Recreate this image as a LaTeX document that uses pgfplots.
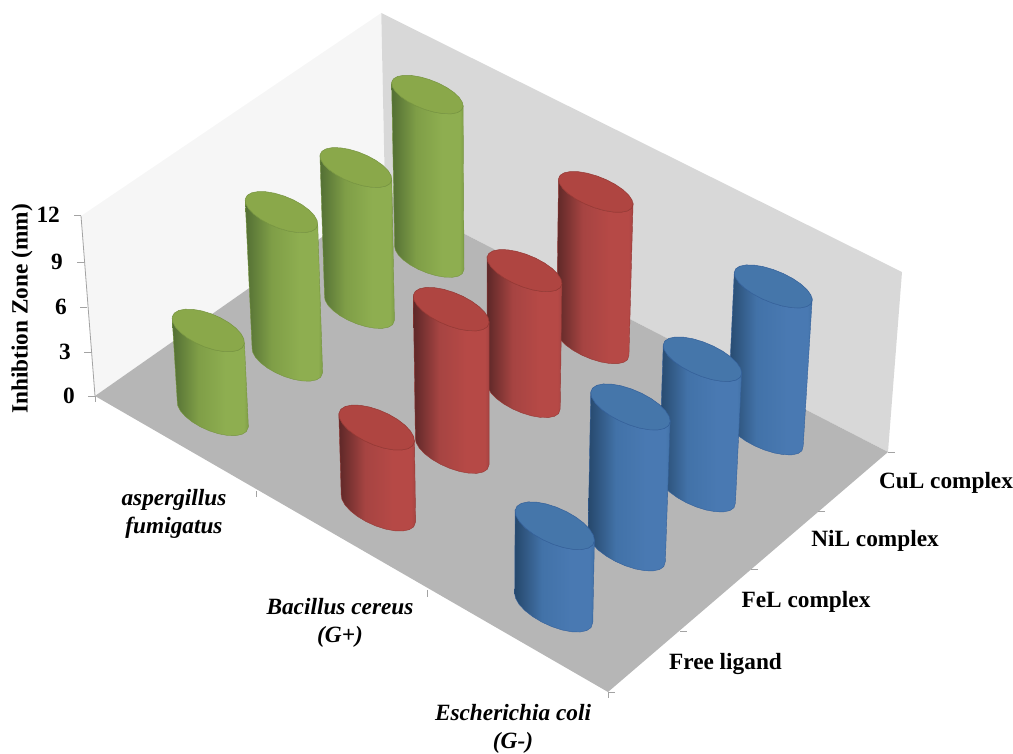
\documentclass[border=0pt]{standalone}
\usepackage{pgfplots}
\usepackage{pgfplotstable}
\usepackage{fontspec}
\setmainfont{Liberation Serif}
\pgfplotsset{compat=1.18}

\definecolor{wallL}{HTML}{F6F6F6}
\definecolor{wallB}{HTML}{D8D8D8}
\definecolor{floorC}{HTML}{B6B6B6}
\definecolor{axisC}{HTML}{A3A3A3}

\definecolor{grnTop}{HTML}{8AA84A}
\definecolor{grnEdge}{HTML}{769440}
\definecolor{grnA}{HTML}{536F34}
\definecolor{grnB}{HTML}{7F9E47}
\definecolor{grnC}{HTML}{8EAE50}
\definecolor{redTop}{HTML}{AF4541}
\definecolor{redEdge}{HTML}{943834}
\definecolor{redA}{HTML}{5E2828}
\definecolor{redB}{HTML}{A64442}
\definecolor{redC}{HTML}{B64946}
\definecolor{bluTop}{HTML}{4576AA}
\definecolor{bluEdge}{HTML}{34609A}
\definecolor{bluA}{HTML}{26486C}
\definecolor{bluB}{HTML}{4272A8}
\definecolor{bluC}{HTML}{4979B2}

\pgfdeclarehorizontalshading{grnShade}{100bp}{color(0bp)=(grnA);color(25bp)=(grnA);color(42bp)=(grnB);color(60bp)=(grnC);color(72bp)=(grnC);color(75bp)=(grnB);color(100bp)=(grnB)}
\pgfdeclarehorizontalshading{redShade}{100bp}{color(0bp)=(redA);color(25bp)=(redA);color(42bp)=(redB);color(60bp)=(redC);color(72bp)=(redC);color(75bp)=(redB);color(100bp)=(redB)}
\pgfdeclarehorizontalshading{bluShade}{100bp}{color(0bp)=(bluA);color(25bp)=(bluA);color(42bp)=(bluB);color(60bp)=(bluC);color(72bp)=(bluC);color(75bp)=(bluB);color(100bp)=(bluB)}

\tikzset{
  tk/.style={draw=axisC, line width=0.8pt},
  lab/.style={font=\fontsize{23.3}{26}\selectfont\bfseries, inner sep=0pt, align=center},
  cat/.style={font=\fontsize{23.3}{28}\selectfont\bfseries\itshape, inner sep=0pt, align=center},
}

% Outline of a column: front half of the base disc (f=0), then the same arc on the lid (f=1)
\pgfplotstableread{
c s f
0.9205 0.3907 0
0.9962 0.0872 0
0.9848 -0.1736 0
0.9063 -0.4226 0
0.7660 -0.6428 0
0.5736 -0.8192 0
0.3420 -0.9397 0
0.0872 -0.9962 0
-0.1736 -0.9848 0
-0.4226 -0.9063 0
-0.6428 -0.7660 0
-0.8192 -0.5736 0
-0.9205 -0.3907 0
-0.9205 -0.3907 1
-0.8192 -0.5736 1
-0.6428 -0.7660 1
-0.4226 -0.9063 1
-0.1736 -0.9848 1
0.0872 -0.9962 1
0.3420 -0.9397 1
0.5736 -0.8192 1
0.7660 -0.6428 1
0.9063 -0.4226 1
0.9848 -0.1736 1
0.9962 0.0872 1
0.9205 0.3907 1
0.9205 0.3907 0
}\bodyOutline

% Lid of a column: the full disc
\pgfplotstableread{
c s
0.9397 0.3420
0.8192 0.5736
0.6428 0.7660
0.4226 0.9063
0.1736 0.9848
-0.0872 0.9962
-0.3420 0.9397
-0.5736 0.8192
-0.7660 0.6428
-0.9063 0.4226
-0.9848 0.1736
-0.9962 -0.0872
-0.9397 -0.3420
-0.8192 -0.5736
-0.6428 -0.7660
-0.4226 -0.9063
-0.1736 -0.9848
0.0872 -0.9962
0.3420 -0.9397
0.5736 -0.8192
0.7660 -0.6428
0.9063 -0.4226
0.9848 -0.1736
0.9962 0.0872
0.9397 0.3420
}\lidOutline

\newcommand{\ru}{0.20}
\newcommand{\rv}{0.20}

% \Column{category position}{series position}{zone in mm}{colour prefix}
\newcommand{\Column}[4]{%
  \addplot[draw=#4Edge, line width=0.4pt, shade, shading=#4Shade] table[
    x expr={px(#1+0.5+\ru*\thisrow{c},#2+0.5+\rv*\thisrow{s},#3*\thisrow{f})},
    y expr={py(#1+0.5+\ru*\thisrow{c},#2+0.5+\rv*\thisrow{s},#3*\thisrow{f})}] {\bodyOutline};
  \addplot[draw=#4Edge, line width=0.5pt, fill=#4Top] table[
    x expr={px(#1+0.5+\ru*\thisrow{c},#2+0.5+\rv*\thisrow{s},#3)},
    y expr={py(#1+0.5+\ru*\thisrow{c},#2+0.5+\rv*\thisrow{s},#3)}] {\lidOutline};
}

\begin{document}
\begin{tikzpicture}[
  declare function={
    wq(\uu,\vv)=1-0.027637*\uu+0.016508*\vv;
    fx(\uu,\vv)=(154.197*\uu+78.855*\vv+95)/wq(\uu,\vv);
    fy(\uu,\vv)=(79.543*\uu-47.565*\vv+396)/wq(\uu,\vv);
    px(\uu,\vv,\zz)=fx(\uu,\vv)+(fx(\uu,\vv)-491)*\zz*0.00294;
    py(\uu,\vv,\zz)=fy(\uu,\vv)-15*\zz;
  }]
\begin{axis}[
  scale only axis, width=1013pt, height=754pt,
  xmin=0, xmax=1013, ymin=0, ymax=754, y dir=reverse,
  hide axis, clip=false,
  table/project/.style={x expr={px(\thisrow{u},\thisrow{v},\thisrow{z})},
                  y expr={py(\thisrow{u},\thisrow{v},\thisrow{z})}},
]
% full page extent
\path (axis cs:0,0) rectangle (axis cs:1013,754);
% left wall, back wall and floor
\addplot[draw=none, fill=wallL] table[project, row sep=\\]{u v z\\ 0 0 0\\ 0 0 12\\ 0 4 12\\ 0 4 0\\ 0 0 0\\};
\addplot[draw=none, fill=wallB] table[project, row sep=\\]{u v z\\ 0 4 0\\ 0 4 12\\ 3 4 12\\ 3 4 0\\ 0 4 0\\};
\addplot[draw=none, fill=floorC] table[project, row sep=\\]{u v z\\ 0 0 0\\ 3 0 0\\ 3 4 0\\ 0 4 0\\ 0 0 0\\};
% vertical axis line
\addplot[tk] table[project, row sep=\\]{u v z\\ 0 0 0\\ 0 0 12\\};

% vertical ticks and their numbers
\draw[tk] (axis cs:95,396)--(axis cs:88,396);
\draw[tk] (axis cs:91,352)--(axis cs:84,352);
\draw[tk] (axis cs:87,307)--(axis cs:80,307);
\draw[tk] (axis cs:84,262)--(axis cs:77,262);
\draw[tk] (axis cs:81,215)--(axis cs:74,215);
\node[lab, anchor=east] at (axis cs:75,396) {0};
\node[lab, anchor=east] at (axis cs:71,352) {3};
\node[lab, anchor=east] at (axis cs:67,307) {6};
\node[lab, anchor=east] at (axis cs:63,262) {9};
\node[lab, anchor=east] at (axis cs:60,215) {12};
\node[lab, rotate=90] at (axis cs:22,309) {Inhibtion Zone (mm)};

% ticks along the two floor edges
\draw[tk] (axis cs:95,396)--(axis cs:95,402);
\draw[tk] (axis cs:256.5,491)--(axis cs:256.5,497);
\draw[tk] (axis cs:427,590)--(axis cs:427,597);
\draw[tk] (axis cs:608,692)--(axis cs:608,698);
\draw[tk] (axis cs:608,692)--(axis cs:615,692);
\draw[tk] (axis cs:680,631)--(axis cs:687,631);
\draw[tk] (axis cs:751,569)--(axis cs:758,569);
\draw[tk] (axis cs:818,511)--(axis cs:825,511);
\draw[tk] (axis cs:888,452)--(axis cs:895,452);

% category and series names
\node[cat] at (axis cs:174,513.5) {aspergillus\\fumigatus};
\node[cat] at (axis cs:340,622.5) {Bacillus cereus\\(G+)};
\node[cat] at (axis cs:513,729) {Escherichia coli\\(G-)};
\node[lab] at (axis cs:725.5,664) {Free ligand};
\node[lab] at (axis cs:806,602) {FeL complex};
\node[lab] at (axis cs:875,541) {NiL complex};
\node[lab] at (axis cs:946,483) {CuL complex};

% aspergillus fumigatus
\Column{0}{3}{10.9}{grn}
\Column{0}{2}{9.4}{grn}
\Column{0}{1}{9.9}{grn}
\Column{0}{0}{5.6}{grn}
% Bacillus cereus (G+)
\Column{1}{3}{10.1}{red}
\Column{1}{2}{8.4}{red}
\Column{1}{1}{9.5}{red}
\Column{1}{0}{5.4}{red}
% Escherichia coli (G-)
\Column{2}{3}{9.8}{blu}
\Column{2}{2}{8.7}{blu}
\Column{2}{1}{9.4}{blu}
\Column{2}{0}{5.5}{blu}
\end{axis}
\end{tikzpicture}
\end{document}
